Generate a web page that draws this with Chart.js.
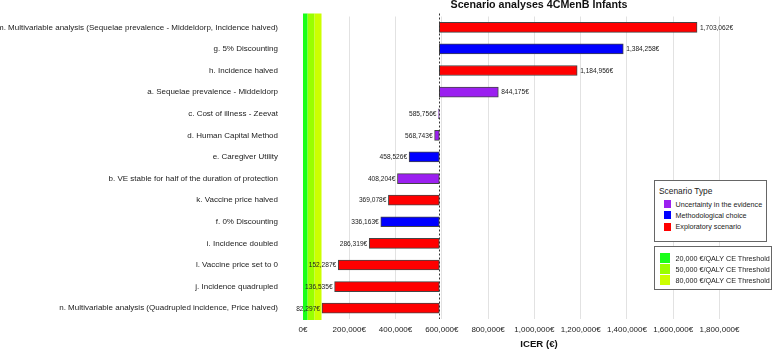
<!DOCTYPE html>
<html>
<head>
<meta charset="utf-8">
<script src="https://cdn.jsdelivr.net/npm/chart.js@4.4.0/dist/chart.umd.min.js"></script>
<style>
  body { margin: 0; background: #fff; font-family: "Liberation Sans", Arial, sans-serif; }
  #wrap { position: relative; width: 776px; height: 350px; }
  .legend { position: absolute; background: #fff; border: 1px solid #666; box-sizing: border-box; color: #222; }
  .legend .row { position: absolute; left: 0; display: flex; align-items: center; height: 10px; font-size: 7.2px; white-space: nowrap; }
  .legend .ttl { position: absolute; left: 4px; top: 5px; font-size: 8.4px; line-height: 10px; }
  .sw { display: inline-block; box-sizing: border-box; }
</style>
</head>
<body>
<div id="wrap">
  <canvas id="chart" width="776" height="350"></canvas>

  <div class="legend" style="left:654px; top:180px; width:113px; height:62px;">
    <div class="ttl">Scenario Type</div>
    <div class="row" style="top:18px;"><span class="sw" style="margin-left:8.5px; width:7.5px; height:8px; background:#9b20f0;"></span><span style="margin-left:4.5px;">Uncertainty in the evidence</span></div>
    <div class="row" style="top:29px;"><span class="sw" style="margin-left:8.5px; width:7.5px; height:8px; background:#0000ff;"></span><span style="margin-left:4.5px;">Methodological choice</span></div>
    <div class="row" style="top:40.5px;"><span class="sw" style="margin-left:8.5px; width:7.5px; height:8px; background:#ff0000;"></span><span style="margin-left:4.5px;">Exploratory scenario</span></div>
  </div>

  <div class="legend" style="left:654px; top:245.5px; width:118px; height:44px;">
    <div class="row" style="top:6.5px;"><span class="sw" style="margin-left:4.5px; width:10px; height:10px; background:#1aff1a;"></span><span style="margin-left:6px;">20,000 €/QALY CE Threshold</span></div>
    <div class="row" style="top:17.5px;"><span class="sw" style="margin-left:4.5px; width:10px; height:10px; background:#99ff00;"></span><span style="margin-left:6px;">50,000 €/QALY CE Threshold</span></div>
    <div class="row" style="top:28.5px;"><span class="sw" style="margin-left:4.5px; width:10px; height:10px; background:#ccff00;"></span><span style="margin-left:6px;">80,000 €/QALY CE Threshold</span></div>
  </div>
</div>

<script>
// scenarios, top to bottom
const categories = [
  'm. Multivariable analysis (Sequelae prevalence - Middeldorp, Incidence halved)',
  'g. 5% Discounting',
  'h. Incidence halved',
  'a. Sequelae prevalence - Middeldorp',
  'c. Cost of illness - Zeevat',
  'd. Human Capital Method',
  'e. Caregiver Utility',
  'b. VE stable for half of the duration of protection',
  'k. Vaccine price halved',
  'f. 0% Discounting',
  'i. Incidence doubled',
  'l. Vaccine price set to 0',
  'j. Incidence quadrupled',
  'n. Multivariable analysis (Quadrupled incidence, Price halved)'
];
const icerValues = [1703062, 1384258, 1184956, 844175, 585756, 568743, 458526, 408204, 369078, 336163, 286319, 152287, 136535, 82297];
const scenarioTypes = ['exp', 'meth', 'exp', 'unc', 'unc', 'unc', 'meth', 'unc', 'exp', 'meth', 'exp', 'exp', 'exp', 'exp'];
// base case ICER (dashed line)
const baseCaseIcer = 589000;
const xTicks = [0, 200000, 400000, 600000, 800000, 1000000, 1200000, 1400000, 1600000, 1800000];
const thresholds = [20000, 50000, 80000];

const typeColors = { unc: '#9b20f0', meth: '#0000ff', exp: '#ff0000' };
const thresholdColors = ['#1aff1a', '#99ff00', '#ccff00'];
const FONT = '"Liberation Sans", Arial, sans-serif';

const euro = v => v.toLocaleString('en-US') + '€';

// green threshold bands behind the bars
const bandsPlugin = {
  id: 'bands',
  beforeDatasetsDraw(chart) {
    const { ctx, chartArea, scales: { x } } = chart;
    ctx.save();
    let prev = 0;
    thresholds.forEach((t, i) => {
      const x0 = x.getPixelForValue(prev);
      const x1 = x.getPixelForValue(t);
      ctx.fillStyle = thresholdColors[i];
      ctx.fillRect(x0, chartArea.top - 3, x1 - x0, chartArea.bottom - chartArea.top + 4);
      prev = t;
    });
    ctx.restore();
  }
};

// dashed base case line, value labels and main title
const overlayPlugin = {
  id: 'overlay',
  afterDatasetsDraw(chart) {
    const { ctx, chartArea, scales: { x } } = chart;
    ctx.save();
    const bx = Math.round(x.getPixelForValue(baseCaseIcer)) + 0.5;
    ctx.strokeStyle = '#333';
    ctx.lineWidth = 1;
    ctx.setLineDash([2, 2]);
    ctx.beginPath();
    ctx.moveTo(bx, chartArea.top - 3);
    ctx.lineTo(bx, chartArea.bottom);
    ctx.stroke();
    ctx.setLineDash([]);

    ctx.font = '6.6px ' + FONT;
    ctx.fillStyle = '#222';
    ctx.textBaseline = 'middle';
    chart.getDatasetMeta(0).data.forEach((bar, i) => {
      const v = icerValues[i];
      const end = x.getPixelForValue(v);
      if (v >= baseCaseIcer) {
        ctx.textAlign = 'left';
        ctx.fillText(euro(v), end + 3, bar.y + 0.5);
      } else {
        ctx.textAlign = 'right';
        ctx.fillText(euro(v), end - 2, bar.y + 0.5);
      }
    });
    ctx.restore();
  },
  afterDraw(chart) {
    const { ctx, chartArea } = chart;
    ctx.save();
    ctx.font = 'bold 10.7px ' + FONT;
    ctx.fillStyle = '#111';
    ctx.textAlign = 'center';
    ctx.textBaseline = 'alphabetic';
    ctx.fillText('Scenario analyses 4CMenB Infants', (chartArea.left + chartArea.right) / 2, 8.3);
    ctx.restore();
  }
};

new Chart(document.getElementById('chart'), {
  type: 'bar',
  data: {
    labels: categories,
    datasets: [{
      data: icerValues.map(v => [baseCaseIcer, v]),
      backgroundColor: scenarioTypes.map(t => typeColors[t]),
      borderColor: '#444',
      borderWidth: 1,
      borderSkipped: false,
      barThickness: 10
    }]
  },
  options: {
    indexAxis: 'y',
    responsive: false,
    animation: false,
    layout: { padding: { top: 16.5, right: 1, left: 0, bottom: 0 } },
    plugins: {
      legend: { display: false },
      tooltip: { enabled: false },
      title: { display: false }
    },
    scales: {
      x: {
        min: 0,
        max: 2040000,
        afterBuildTicks: s => { s.ticks = xTicks.map(v => ({ value: v })); },
        afterFit: s => { s.height = 31; },
        grid: { color: '#e2e2e2', drawTicks: false },
        border: { display: false },
        ticks: {
          padding: 6,
          color: '#222',
          font: { family: FONT, size: 8 },
          maxRotation: 0,
          autoSkip: false,
          callback: v => euro(v)
        },
        title: {
          display: true,
          text: 'ICER (€)',
          color: '#111',
          font: { family: FONT, size: 9.6, weight: 'bold' },
          padding: { top: 0, bottom: 0 }
        }
      },
      y: {
        afterFit: s => { s.width = 303; s.paddingTop = 0; s.paddingBottom = 0; },
        grid: { display: false, drawTicks: false },
        border: { display: false },
        ticks: {
          padding: 25,
          color: '#222',
          font: { family: FONT, size: 8 },
          autoSkip: false
        }
      }
    }
  },
  plugins: [bandsPlugin, overlayPlugin]
});
</script>
</body>
</html>
